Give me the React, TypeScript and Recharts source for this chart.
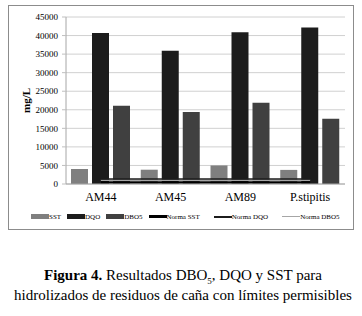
import { ComposedChart, Bar, Line, XAxis, YAxis, CartesianGrid, Legend } from 'recharts'

const categories = ['AM44', 'AM45', 'AM89', 'P.stipitis']
const sstValues = [4050, 3850, 5000, 3800]
const dqoValues = [40700, 35900, 40900, 42200]
const dbo5Values = [21100, 19400, 21900, 17600]
const normaSstValues = [400, 400, 400, 400]
const normaDqoValues = [1350, 1350, 1350, 1350]
const normaDbo5Values = [1000, 1000, 1000, 1000]
const yTicks = [0, 5000, 10000, 15000, 20000, 25000, 30000, 35000, 40000, 45000]

const data = categories.map((name, i) => ({
  name,
  sst: sstValues[i],
  dqo: dqoValues[i],
  dbo5: dbo5Values[i],
  normaSst: normaSstValues[i],
  normaDqo: normaDqoValues[i],
  normaDbo5: normaDbo5Values[i],
}))

const serif = '"Liberation Serif", "Times New Roman", serif'

const legendItems = [
  { label: 'SST', color: '#7f7f7f', kind: 'bar', gap: 6 },
  { label: 'DQO', color: '#1c1c1c', kind: 'bar', gap: 6 },
  { label: 'DBO5', color: '#404040', kind: 'bar', gap: 6 },
  { label: 'Norma SST', color: '#000000', kind: 'line', thick: 3, gap: 14 },
  { label: 'Norma DQO', color: '#1c1c1c', kind: 'line', thick: 2, gap: 14 },
  { label: 'Norma DBO5', color: '#a6a6a6', kind: 'line', thick: 1, gap: 0 },
]

const ChartLegend = () => (
  <div
    style={{
      display: 'flex',
      alignItems: 'center',
      paddingLeft: 22,
      height: 25,
      fontFamily: serif,
      fontSize: 7,
      color: '#000',
    }}
  >
    {legendItems.map((it) => (
      <div key={it.label} style={{ display: 'flex', alignItems: 'center', marginRight: it.gap }}>
        <span
          style={{
            display: 'inline-block',
            width: 18,
            height: it.kind === 'bar' ? 5 : it.thick,
            background: it.color,
          }}
        />
        <span>{it.label}</span>
      </div>
    ))}
  </div>
)

export default function App() {
  return (
    <div
      style={{
        position: 'absolute',
        left: 0,
        top: 0,
        width: 362,
        height: 316,
        background: '#fff',
        fontFamily: serif,
      }}
    >
      <div
        style={{
          position: 'absolute',
          left: 8,
          top: 5,
          width: 346,
          height: 225,
          border: '1px solid #8c8c8c',
          boxSizing: 'border-box',
        }}
      >
        <ComposedChart
          width={344}
          height={223}
          data={data}
          margin={{ top: 11, right: 8, left: 0, bottom: 0 }}
          barSize={17}
          barGap={4}
        >
          <CartesianGrid vertical={false} stroke="#d0d0d0" />
          <XAxis
            dataKey="name"
            interval={0}
            tickLine={false}
            tickSize={0}
            tickMargin={8}
            height={20}
            axisLine={{ stroke: '#a6a6a6' }}
            tick={{ fill: '#000', fontSize: 12, fontFamily: serif }}
          />
          <YAxis
            domain={[0, 45000]}
            ticks={yTicks}
            interval={0}
            width={57}
            tickSize={4}
            tickMargin={4}
            tickLine={{ stroke: '#bfbfbf' }}
            axisLine={{ stroke: '#a6a6a6' }}
            tick={{ fill: '#000', fontSize: 9, fontFamily: serif }}
            label={{
              value: 'mg/L',
              content: ({ viewBox }: any) => {
                const cy = viewBox.y + viewBox.height / 2
                return (
                  <text
                    x={17}
                    y={cy}
                    transform={`rotate(-90, 17, ${cy})`}
                    textAnchor="middle"
                    dominantBaseline="central"
                    fontFamily={serif}
                    fontSize={11}
                    fontWeight="bold"
                    fill="#000"
                  >
                    mg/L
                  </text>
                )
              },
            }}
          />
          <Legend verticalAlign="bottom" height={25} wrapperStyle={{ left: 0, width: 344 }} content={() => <ChartLegend />} />
          <Bar dataKey="sst" name="SST" fill="#7f7f7f" isAnimationActive={false} />
          <Bar dataKey="dqo" name="DQO" fill="#1c1c1c" isAnimationActive={false} />
          <Bar dataKey="dbo5" name="DBO5" fill="#404040" isAnimationActive={false} />
          <Line dataKey="normaDbo5" name="Norma DBO5" type="linear" stroke="#a6a6a6" strokeWidth={1.5} dot={false} activeDot={false} isAnimationActive={false} />
          <Line dataKey="normaDqo" name="Norma DQO" type="linear" stroke="#1c1c1c" strokeWidth={1.5} dot={false} activeDot={false} isAnimationActive={false} />
          <Line dataKey="normaSst" name="Norma SST" type="linear" stroke="#000" strokeWidth={2.5} dot={false} activeDot={false} isAnimationActive={false} />
        </ComposedChart>
      </div>
      <div
        style={{
          position: 'absolute',
          left: 2,
          top: 265,
          width: 362,
          textAlign: 'center',
          fontSize: 15,
          lineHeight: '20px',
          color: '#000',
          whiteSpace: 'nowrap',
        }}
      >
        <div>
          <b>Figura 4.</b> Resultados DBO<sub style={{ fontSize: 9, lineHeight: 0 }}>5</sub>, DQO y SST para
        </div>
        <div>hidrolizados de residuos de caña con límites permisibles</div>
      </div>
    </div>
  )
}
